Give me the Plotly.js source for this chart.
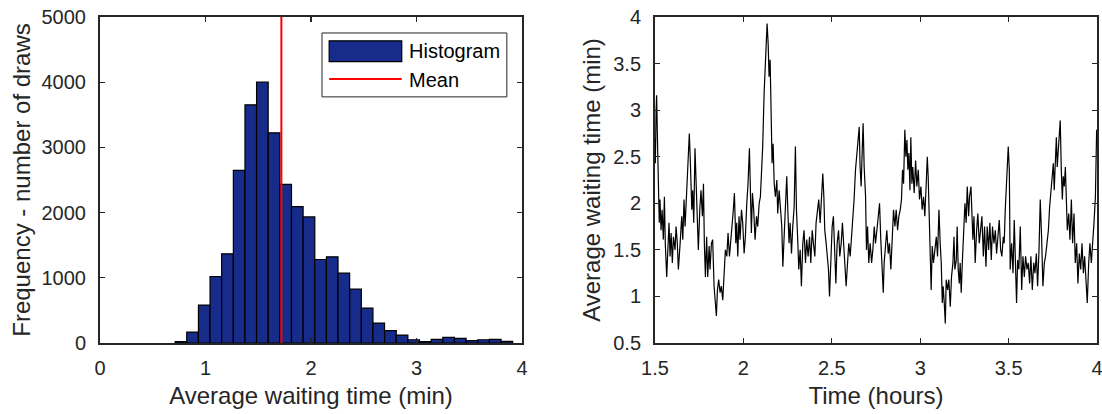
<!DOCTYPE html>
<html>
<head>
<meta charset="utf-8">
<script src="https://cdn.plot.ly/plotly-3.0.1.min.js"></script>
<style>html,body{margin:0;padding:0;background:#fff;}#chart{width:1102px;height:414px;}</style>
</head>
<body>
<div id="chart"></div>
<script>
// ---- Histogram data (average waiting time, min) ----
const binCenters = [0.767,0.877,0.988,1.098,1.208,1.319,1.429,1.539,1.650,1.760,1.870,1.981,2.091,2.201,2.311,2.422,2.532,2.642,2.753,2.863,2.973,3.084,3.194,3.304,3.415,3.525,3.635,3.746,3.856];
const binCounts  = [20,168,582,1020,1367,2648,3653,4000,3224,2434,2092,1934,1281,1321,1071,827,536,306,189,122,50,20,55,85,70,35,50,55,25];
const meanWait = 1.719;

// ---- Time series (time in hours, average waiting time in min) ----
const timeHours = [1.500,1.502,1.506,1.509,1.515,1.519,1.524,1.528,1.534,1.540,1.547,1.553,1.558,1.566,1.572,1.579,1.585,1.591,1.598,1.604,1.613,1.619,1.626,1.632,1.642,1.651,1.657,1.664,1.670,1.679,1.687,1.694,1.700,1.708,1.713,1.719,1.726,1.732,1.740,1.745,1.753,1.760,1.768,1.774,1.779,1.785,1.792,1.798,1.806,1.811,1.819,1.826,1.834,1.842,1.847,1.853,1.860,1.868,1.875,1.883,1.891,1.898,1.906,1.913,1.921,1.928,1.936,1.943,1.949,1.957,1.962,1.968,1.975,1.981,1.989,1.996,2.004,2.011,2.019,2.026,2.034,2.040,2.045,2.051,2.058,2.066,2.074,2.081,2.089,2.096,2.104,2.109,2.117,2.123,2.128,2.134,2.140,2.145,2.151,2.157,2.162,2.168,2.174,2.181,2.189,2.194,2.202,2.209,2.217,2.223,2.230,2.238,2.245,2.251,2.258,2.264,2.272,2.279,2.287,2.294,2.300,2.308,2.313,2.321,2.328,2.336,2.343,2.351,2.358,2.366,2.374,2.381,2.389,2.396,2.404,2.411,2.419,2.426,2.434,2.442,2.449,2.455,2.460,2.468,2.474,2.481,2.487,2.494,2.502,2.509,2.515,2.523,2.530,2.538,2.545,2.553,2.560,2.568,2.575,2.581,2.589,2.596,2.604,2.611,2.619,2.626,2.634,2.642,2.649,2.655,2.660,2.666,2.672,2.677,2.683,2.691,2.696,2.702,2.709,2.717,2.725,2.732,2.740,2.747,2.755,2.762,2.770,2.777,2.785,2.791,2.796,2.804,2.811,2.819,2.826,2.834,2.842,2.849,2.857,2.864,2.872,2.879,2.887,2.894,2.900,2.906,2.913,2.919,2.925,2.930,2.936,2.942,2.947,2.953,2.958,2.966,2.974,2.981,2.989,2.996,3.004,3.011,3.019,3.026,3.034,3.040,3.045,3.051,3.057,3.062,3.068,3.075,3.083,3.091,3.098,3.106,3.113,3.119,3.125,3.130,3.136,3.142,3.147,3.155,3.162,3.170,3.177,3.185,3.191,3.196,3.204,3.209,3.215,3.221,3.226,3.232,3.238,3.245,3.253,3.260,3.266,3.274,3.279,3.287,3.292,3.298,3.304,3.311,3.319,3.326,3.334,3.342,3.349,3.357,3.364,3.372,3.379,3.387,3.394,3.402,3.409,3.417,3.425,3.432,3.440,3.447,3.455,3.462,3.470,3.475,3.481,3.487,3.492,3.498,3.504,3.509,3.517,3.525,3.532,3.540,3.545,3.551,3.558,3.566,3.574,3.581,3.589,3.596,3.604,3.611,3.619,3.626,3.634,3.642,3.649,3.657,3.664,3.672,3.679,3.687,3.694,3.702,3.709,3.717,3.725,3.732,3.740,3.747,3.753,3.758,3.764,3.770,3.775,3.781,3.787,3.792,3.798,3.804,3.809,3.815,3.821,3.826,3.832,3.840,3.847,3.855,3.862,3.870,3.877,3.885,3.892,3.900,3.908,3.915,3.923,3.930,3.938,3.945,3.953,3.960,3.968,3.975,3.983,3.991,3.998];
const waitMin = [2.70,2.43,3.00,3.16,2.57,2.21,1.79,2.04,1.71,1.93,1.61,2.07,1.57,1.21,1.57,1.79,1.43,1.68,1.36,1.64,1.50,1.75,1.57,1.29,1.57,1.86,1.61,2.04,1.75,2.07,2.36,2.75,2.43,1.93,2.14,1.79,2.59,2.18,1.61,1.50,1.93,2.14,1.86,2.21,1.57,1.21,1.64,1.21,1.54,1.29,1.57,1.61,1.11,0.93,0.79,1.07,1.18,1.04,1.11,0.96,1.25,1.50,1.43,1.68,1.43,1.57,1.75,1.93,2.11,1.57,1.79,1.43,1.86,1.61,1.93,1.79,1.46,1.64,2.00,2.21,2.59,2.18,1.68,2.11,1.93,1.61,1.86,1.75,2.00,2.07,2.39,2.61,3.18,3.50,3.79,3.93,3.71,3.36,3.54,3.00,2.43,2.64,2.21,2.07,2.25,1.89,2.14,1.96,1.75,1.32,1.64,1.93,2.29,1.93,1.57,1.79,1.46,1.75,1.96,2.61,1.93,1.57,1.29,1.50,1.11,1.57,1.71,1.36,1.61,1.43,1.64,1.36,1.71,1.57,1.43,1.79,1.96,2.04,1.79,2.14,2.32,2.07,1.71,1.57,1.46,1.29,1.00,1.36,1.75,1.86,1.50,1.14,1.57,1.71,1.43,1.57,1.79,1.50,1.29,1.11,1.36,1.57,1.43,1.61,1.86,2.04,2.36,2.54,2.64,2.82,2.39,2.18,2.57,2.86,2.39,2.07,1.50,1.75,1.36,1.57,1.36,1.50,1.75,1.57,1.71,1.86,2.00,1.61,1.36,1.04,1.36,1.57,1.71,1.46,1.57,1.29,1.61,1.93,1.75,1.93,1.71,1.86,1.93,2.04,2.36,2.21,2.79,2.50,2.68,2.36,2.54,2.14,2.71,2.21,2.39,2.11,2.46,2.18,2.36,2.04,2.18,1.93,2.07,1.86,2.21,2.50,2.29,1.86,1.50,1.07,1.54,1.36,1.50,1.64,1.43,1.93,1.57,1.36,0.93,1.11,0.93,0.71,1.18,1.07,1.18,0.89,1.21,1.36,1.64,1.29,1.39,1.75,1.29,1.14,1.36,1.04,1.36,1.64,2.00,1.79,2.18,1.86,2.07,2.18,1.93,1.61,1.86,1.36,1.71,1.89,1.57,1.71,1.86,1.43,1.75,1.32,1.75,1.50,1.79,1.39,1.75,1.57,1.71,1.46,1.61,1.82,1.50,1.43,1.64,1.57,1.93,2.14,2.36,2.61,2.36,1.29,1.57,1.25,1.82,1.04,0.93,1.39,1.29,1.75,1.07,1.43,1.21,1.43,1.29,1.36,1.14,1.43,1.07,1.36,1.25,1.46,1.11,1.50,2.04,1.61,1.11,1.36,1.43,1.57,1.71,1.96,2.14,2.32,2.43,2.14,2.50,2.71,2.39,2.57,2.64,2.89,2.36,2.04,2.29,2.18,2.39,2.07,1.71,1.89,1.61,2.04,1.57,1.89,1.36,1.57,1.14,1.46,1.29,1.57,1.25,1.43,1.21,0.93,1.36,1.57,1.36,1.54,1.79,2.07,2.79];

// ---- Tick labels ----
const histTicks = [0,1,2,3,4];
const countTicks = [0,1000,2000,3000,4000,5000];
const timeTicks = [1.5,2,2.5,3,3.5,4];
const timeTickText = ['1.5','2','2.5','3','3.5','4'];
const waitTicks = [0.5,1,1.5,2,2.5,3,3.5,4];
const waitTickText = ['0.5','1','1.5','2','2.5','3','3.5','4'];

const FONT = 'Liberation Sans, Arial, Helvetica, sans-serif';
const INK = '#262626';
const BAR = '#172B8B';
const tickFont = {family: FONT, size: 20, color: INK};
const titleFont = {family: FONT, size: 24, color: INK};

const binWidth = binCenters[1] - binCenters[0];

const traces = [
  {
    type: 'bar', x: binCenters, y: binCounts, width: binCenters.map(() => binWidth),
    marker: {color: BAR, line: {color: '#000000', width: 1.2}},
    name: 'Histogram', xaxis: 'x', yaxis: 'y', showlegend: false, hoverinfo: 'x+y'
  },
  {
    type: 'scatter', mode: 'lines', x: [meanWait, meanWait], y: [0, countTicks[countTicks.length-1]],
    line: {color: '#FF0000', width: 2}, name: 'Mean', xaxis: 'x', yaxis: 'y', showlegend: false
  },
  {
    type: 'scatter', mode: 'lines', x: timeHours, y: waitMin,
    line: {color: '#000000', width: 1.2}, name: 'Average waiting time', xaxis: 'x2', yaxis: 'y2', showlegend: false
  }
];

const axisBase = {
  showline: true, linecolor: INK, linewidth: 2, mirror: 'allticks',
  ticks: 'inside', ticklen: 5, tickwidth: 1.2, tickcolor: INK,
  showgrid: false, zeroline: false, tickfont: tickFont, fixedrange: true,
  ticklabeloverflow: 'allow'
};

const layout = {
  width: 1102, height: 414,
  margin: {l: 100, r: 5, t: 17, b: 71},
  paper_bgcolor: '#ffffff', plot_bgcolor: '#ffffff',
  bargap: 0,
  showlegend: false,
  xaxis: Object.assign({}, axisBase, {
    domain: [0, 0.4233], range: [histTicks[0], histTicks[histTicks.length-1]],
    tickmode: 'array', tickvals: histTicks, ticktext: histTicks.map(String), ticklabelstandoff: 6,
    title: {text: 'Average waiting time (min)', font: titleFont, standoff: 9}, anchor: 'y'
  }),
  yaxis: Object.assign({}, axisBase, {
    domain: [0, 1], range: [countTicks[0], countTicks[countTicks.length-1]],
    tickmode: 'array', tickvals: countTicks, ticktext: countTicks.map(String), ticklabelstandoff: 8,
    title: {text: 'Frequency - number of draws', font: titleFont, standoff: 4}, anchor: 'x'
  }),
  xaxis2: Object.assign({}, axisBase, {
    domain: [0.5567, 1], range: [timeTicks[0], timeTicks[timeTicks.length-1]],
    tickmode: 'array', tickvals: timeTicks, ticktext: timeTickText, ticklabelstandoff: 6,
    title: {text: 'Time (hours)', font: titleFont, standoff: 9}, anchor: 'y2'
  }),
  yaxis2: Object.assign({}, axisBase, {
    domain: [0, 1], range: [waitTicks[0], waitTicks[waitTicks.length-1]],
    tickmode: 'array', tickvals: waitTicks, ticktext: waitTickText, ticklabelstandoff: 8,
    title: {text: 'Average waiting time (min)', font: titleFont, standoff: 6}, anchor: 'x2'
  }),
  shapes: [
    // legend box
    {type: 'rect', xref: 'x domain', yref: 'y domain', x0: 0.526, x1: 0.964, y0: 0.755, y1: 0.951,
     line: {color: INK, width: 1}, fillcolor: '#ffffff', layer: 'above'},
    // histogram patch
    {type: 'rect', xref: 'x domain', yref: 'y domain', x0: 0.543, x1: 0.715, y0: 0.863, y1: 0.927,
     line: {color: '#000000', width: 1.2}, fillcolor: BAR, layer: 'above'},
    // mean line sample
    {type: 'line', xref: 'x domain', yref: 'y domain', x0: 0.543, x1: 0.715, y0: 0.81, y1: 0.81,
     line: {color: '#FF0000', width: 2}, layer: 'above'}
  ],
  annotations: [
    {xref: 'x domain', yref: 'y domain', x: 0.727, y: 0.895, xanchor: 'left', yanchor: 'middle',
     text: 'Histogram', showarrow: false, font: {family: FONT, size: 20, color: '#000000'}},
    {xref: 'x domain', yref: 'y domain', x: 0.727, y: 0.808, xanchor: 'left', yanchor: 'middle',
     text: 'Mean', showarrow: false, font: {family: FONT, size: 20, color: '#000000'}}
  ]
};

Plotly.newPlot('chart', traces, layout, {displayModeBar: false, staticPlot: true});
</script>
</body>
</html>
